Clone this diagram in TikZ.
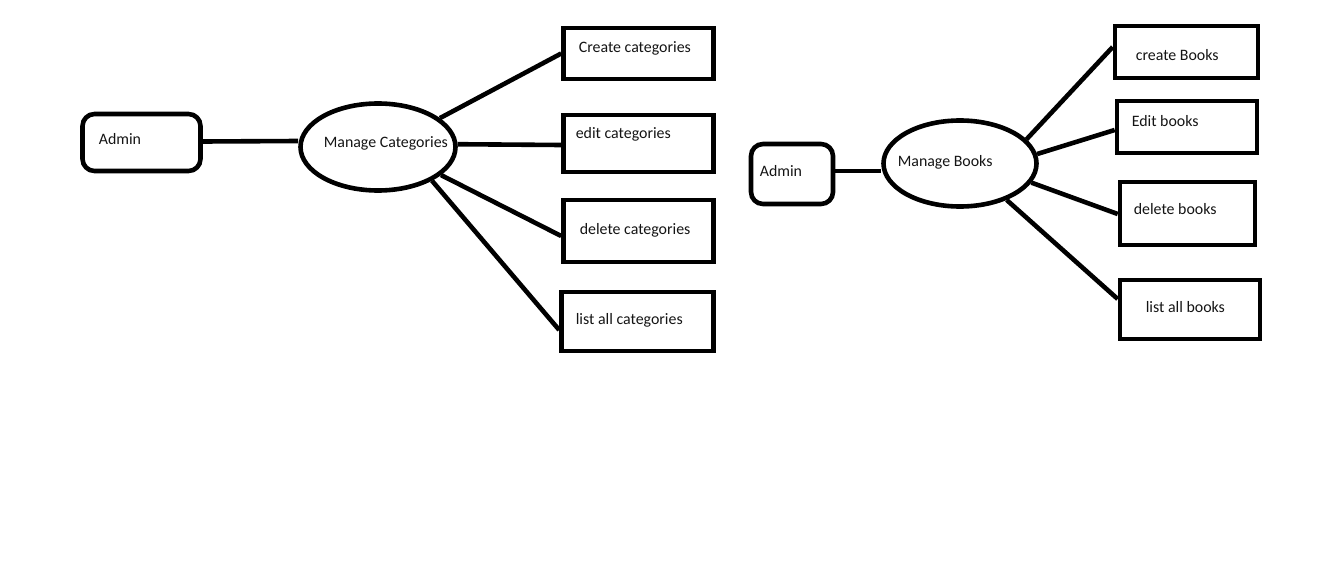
\documentclass[tikz,border=0pt]{standalone}
\usepackage{fontspec}
\setmainfont{Carlito}
\usetikzlibrary{shapes.geometric}
\begin{document}
\begin{tikzpicture}[x=1pt,y=1pt,line width=4.6pt,
  actor/.style={draw,rounded corners=12pt,inner sep=0pt},
  usecase/.style={draw,ellipse,inner sep=0pt},
  task/.style={draw,rectangle,inner sep=0pt},
  txt/.style={anchor=base west,inner sep=0pt,xshift=-1.5pt,font=\fontsize{15.9}{18}\selectfont,text=black!92},
  link/.style={line cap=butt}]
\useasboundingbox (0,0) rectangle (1339,-578);
% left diagram
\node[actor,minimum width=118pt,minimum height=57pt] (a1) at (141.5,-142.5) {};
\node[usecase,minimum width=155pt,minimum height=87pt] (e1) at (378,-147) {};
\node[task,minimum width=150pt,minimum height=51pt] (b1) at (638.5,-53.5) {};
\node[task,minimum width=150pt,minimum height=57pt] (b2) at (638.5,-143.5) {};
\node[task,minimum width=150pt,minimum height=62pt] (b3) at (638.5,-231) {};
\node[task,minimum width=152pt,minimum height=59pt] (b4) at (637.5,-321.5) {};
\node[txt] (ta1) at (98,-144) {Admin};
\node[txt] (te1) at (323,-147) {Manage Categories};
\node[txt] (tb1) at (578,-53) {Create categories};
\node[txt] (tb2) at (575,-138) {edit categories};
\node[txt] (tb3) at (579,-234) {delete categories};
\node[txt] (tb4) at (575,-324) {list all categories};
\draw[link] ([yshift=1pt]a1.east) -- (e1.west |- {(0,-141)});
\draw[link] (e1.25) -- (b1.west);
\draw[link] (e1.2) -- ([yshift=-1.5pt]b2.west);
\draw[link] (e1.-24) -- ([yshift=-5pt]b3.west);
\draw[link] (e1.-32) -- ([yshift=-8.5pt]b4.west);
% right diagram
\node[actor,minimum width=82pt,minimum height=60pt] (a2) at (792,-174) {};
\node[usecase,minimum width=153pt,minimum height=86pt] (e2) at (960,-163.5) {};
\node[task,minimum width=143pt,minimum height=52pt] (c1) at (1186.5,-52) {};
\node[task,minimum width=140pt,minimum height=52pt] (c2) at (1187,-127) {};
\node[task,minimum width=135pt,minimum height=63pt] (c3) at (1187.5,-213.5) {};
\node[task,minimum width=140pt,minimum height=59pt] (c4) at (1190,-309.5) {};
\node[txt] (ta2) at (759,-176) {Admin};
\node[txt] (te2) at (897,-166) {Manage Books};
\node[txt] (tc1) at (1135,-60) {create Books};
\node[txt] (tc2) at (1131,-126) {Edit books};
\node[txt] (tc3) at (1133,-214) {delete books};
\node[txt] (tc4) at (1145,-312) {list all books};
\draw[link] ([yshift=3pt]a2.east) -- (e2.west |- {(0,-171)});
\draw[link] (e2.20) -- ([yshift=5pt]c1.west);
\draw[link] (e2.7) -- ([yshift=-3pt]c2.west);
\draw[link] (e2.-15) -- ([yshift=-0.5pt]c3.west);
\draw[link] (e2.-38) -- ([yshift=10.5pt]c4.west);
\end{tikzpicture}
\end{document}
